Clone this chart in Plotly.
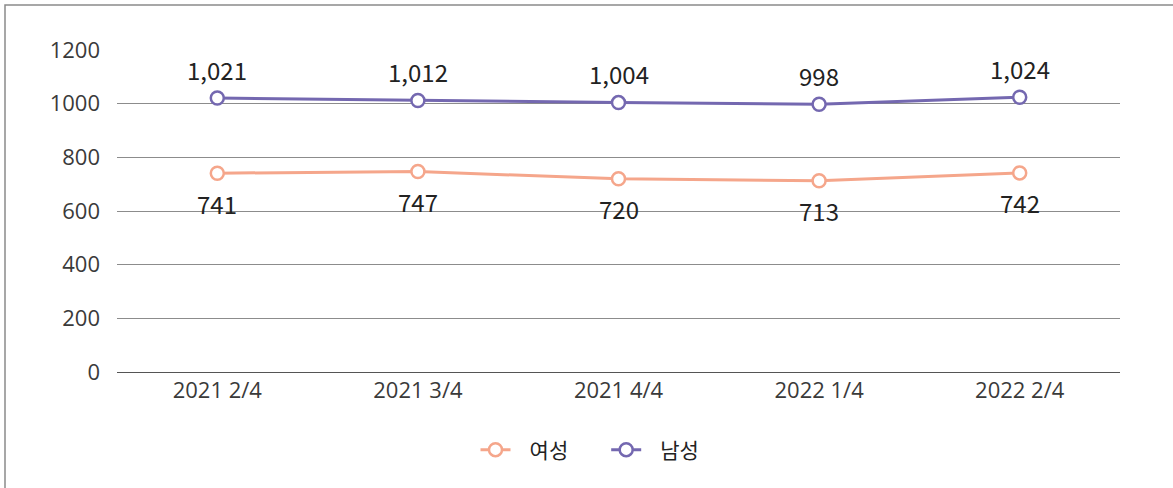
import plotly.graph_objects as go

categories = ["2021 2/4", "2021 3/4", "2021 4/4", "2022 1/4", "2022 2/4"]
female = [741, 747, 720, 713, 742]
male = [1021, 1012, 1004, 998, 1024]
y_ticks = [0, 200, 400, 600, 800, 1000, 1200]
series_names = ["여성", "남성"]

FONT = "Noto Sans CJK KR"
TICK_FONT = "Open Sans"
W, H = 1173, 488
ML, MR, MT, MB = 117, 53, 50, 116
PW, PH = W - ML - MR, H - MT - MB

NB = "\u00a0"
C_F = "#F5A68B"
C_M = "#7468B0"

fig = go.Figure()
fig.add_trace(go.Scatter(
    x=categories, y=female, name=NB * 3 + series_names[0] + NB * 7, mode="lines+markers",
    line=dict(color=C_F, width=3),
    marker=dict(symbol="circle", size=13, color="white", line=dict(color=C_F, width=2.5)),
))
fig.add_trace(go.Scatter(
    x=categories, y=male, name=NB * 3 + series_names[1], mode="lines+markers",
    line=dict(color=C_M, width=3),
    marker=dict(symbol="circle", size=13, color="white", line=dict(color=C_M, width=2.5)),
))

for cat, v in zip(categories, female):
    fig.add_annotation(x=cat, y=v, text=f"{v:,}", showarrow=False, yanchor="middle",
                       yshift=-30, font=dict(family=FONT, size=24, color="#222222"))
for cat, v in zip(categories, male):
    fig.add_annotation(x=cat, y=v, text=f"{v:,}", showarrow=False, yanchor="middle",
                       yshift=29, font=dict(family=FONT, size=24, color="#222222"))

def px_x(p):
    return (p - ML) / PW

def px_y(p):
    return (H - MB - p) / PH

fig.add_shape(type="rect", xref="paper", yref="paper",
              x0=px_x(5), x1=px_x(1180), y0=px_y(495), y1=px_y(5),
              line=dict(color="#8a8a8a", width=1.5), fillcolor="rgba(0,0,0,0)", layer="below")

fig.update_layout(
    width=W, height=H,
    margin=dict(l=ML, r=MR, t=MT, b=MB),
    paper_bgcolor="white", plot_bgcolor="white",
    font=dict(family=FONT, color="#333333"),
    showlegend=True,
    legend=dict(orientation="h", x=px_x(590), xanchor="center", y=px_y(450), yanchor="middle",
                font=dict(family=FONT, size=21, color="#222222"),
                traceorder="normal"),
    xaxis=dict(type="category", range=[-0.5, 4.5], showgrid=False, showline=False, ticks="",
               tickfont=dict(family=TICK_FONT, size=22, color="#3a3a3a"), ticklabelstandoff=3),
    yaxis=dict(range=[0, 1200], tickvals=y_ticks, showgrid=True, gridcolor="#8c8c8c", gridwidth=1,
               zeroline=True, zerolinecolor="#555555", zerolinewidth=1,
               tickfont=dict(family=TICK_FONT, size=22, color="#3a3a3a"), ticklabelstandoff=16),
)

fig.write_html("out.html", config={"displayModeBar": False},
               post_script="document.body.style.margin='0';")
